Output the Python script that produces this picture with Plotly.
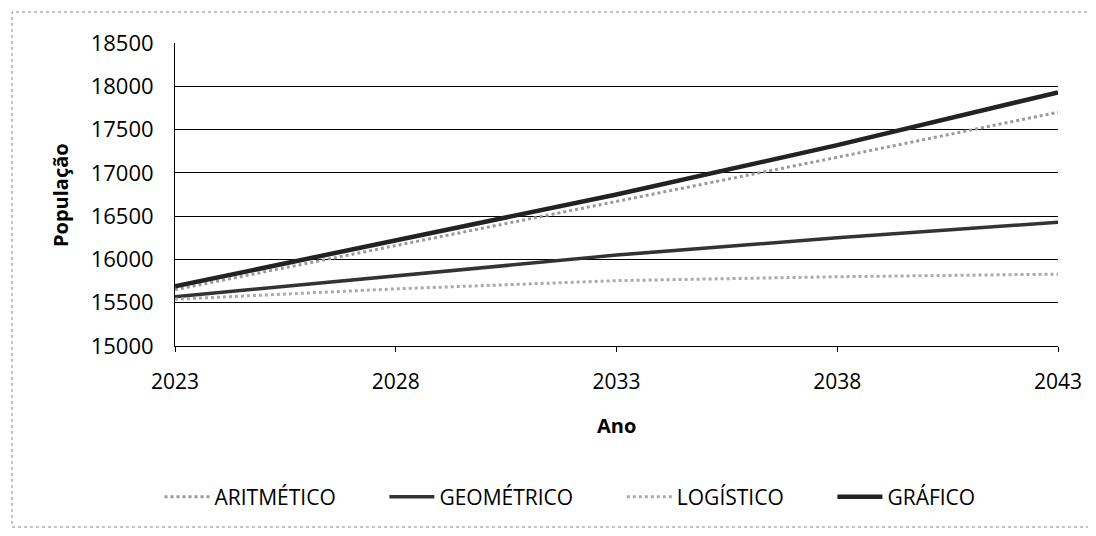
import plotly.graph_objects as go

anos = [2023, 2028, 2033, 2038, 2043]
aritmetico = [15650, 16160, 16670, 17180, 17700]
geometrico = [15570, 15810, 16050, 16250, 16430]
logistico = [15540, 15660, 15755, 15800, 15830]
grafico = [15690, 16220, 16750, 17320, 17930]

y_ticks = [15000, 15500, 16000, 16500, 17000, 17500, 18000, 18500]
y_labels = [str(v) for v in y_ticks]

FONT = "Open Sans"

fig = go.Figure()
fig.add_trace(go.Scatter(x=anos, y=aritmetico, name="ARITMÉTICO        ", mode="lines",
                         line=dict(color="#9a9a9a", width=3, dash="dot")))
fig.add_trace(go.Scatter(x=anos, y=geometrico, name="GEOMÉTRICO        ", mode="lines",
                         line=dict(color="#333333", width=3.5)))
fig.add_trace(go.Scatter(x=anos, y=logistico, name="LOGÍSTICO        ", mode="lines",
                         line=dict(color="#aaaaaa", width=3, dash="dot")))
fig.add_trace(go.Scatter(x=anos, y=grafico, name="GRÁFICO", mode="lines",
                         line=dict(color="#222222", width=4.5)))

OFF = 8  # page offset
L, R, T, B = 175 - OFF, 1058 - OFF, 43 - OFF, 346 - OFF
W, H = 1096, 536
pw, ph = R - L, B - T


def px(x):
    return (x - OFF - L) / pw


def py(y):
    return (B - (y - OFF)) / ph


fig.update_layout(
    width=W, height=H,
    margin=dict(l=L, r=W - R, t=T, b=H - B),
    paper_bgcolor="white", plot_bgcolor="white",
    font=dict(family=FONT, color="black"),
    showlegend=True,
    legend=dict(orientation="h", x=px(570), xanchor="center", y=py(497), yanchor="middle",
                font=dict(size=21, family=FONT), itemwidth=45, traceorder="normal"),
    xaxis=dict(range=[2023, 2043], tickvals=anos, ticktext=[str(a) for a in anos],
               showgrid=False, zeroline=False, showline=True, linecolor="black", linewidth=1,
               ticks="outside", ticklen=5, tickcolor="black",
               ticklabelstandoff=12, tickfont=dict(size=21, family=FONT)),
    yaxis=dict(range=[15000, 18500], tickvals=y_ticks, ticktext=y_labels,
               showgrid=True, gridcolor="black", gridwidth=1, zeroline=False,
               showline=True, linecolor="black", linewidth=1,
               ticks="", ticklabelstandoff=16, tickfont=dict(size=22, family=FONT)),
    annotations=[
        dict(text="<b>Ano</b>", xref="paper", yref="paper", x=px(616), y=py(425),
             showarrow=False, font=dict(size=20, family=FONT), xanchor="center", yanchor="middle"),
        dict(text="<b>População</b>", xref="paper", yref="paper", x=px(60), y=py(195),
             showarrow=False, textangle=-90, font=dict(size=20, family=FONT),
             xanchor="center", yanchor="middle"),
    ],
    shapes=[
        dict(type="rect", xref="paper", yref="paper",
             x0=px(12), x1=px(1090), y0=py(527), y1=py(12),
             line=dict(color="#888888", width=1, dash="dot"), layer="below"),
    ],
)

fig.write_html("out.html")
